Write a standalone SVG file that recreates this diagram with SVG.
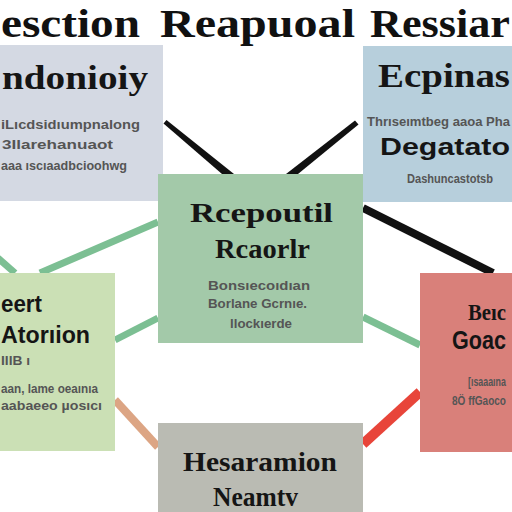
<svg xmlns="http://www.w3.org/2000/svg" width="512" height="512" viewBox="0 0 512 512">
<style>
.ttl{font-family:"Liberation Serif","DejaVu Serif",serif;font-weight:bold;fill:#111}
.hd{font-family:"Liberation Serif","DejaVu Serif",serif;font-weight:bold;fill:#151515}
.hs{font-family:"Liberation Sans","DejaVu Sans",sans-serif;font-weight:bold;fill:#151515}
.sub{font-family:"Liberation Sans Narrow","Liberation Sans",sans-serif;font-weight:bold;fill:#555;font-size:12.5px}
</style>
<rect width="512" height="512" fill="#ffffff"/>
<g id="title">
<text class="ttl" x="1" y="37" font-size="40" textLength="139" lengthAdjust="spacingAndGlyphs">esction</text>
<text class="ttl" x="160" y="37" font-size="40" textLength="195" lengthAdjust="spacingAndGlyphs">Reapuoal</text>
<text class="ttl" x="370" y="37" font-size="40" textLength="140" lengthAdjust="spacingAndGlyphs">Ressiar</text>
</g>
<g id="connectors" fill="none" stroke-linecap="butt">
<polygon points="163.5,123.5 166.5,120 234,174 222,174" fill="#111"/>
<polygon points="355,120.5 358.5,124.5 298,174 286,174" fill="#111"/>
<line x1="363" y1="208" x2="493" y2="273" stroke="#111" stroke-width="8"/>
<line x1="-2" y1="258" x2="15" y2="273" stroke="#7cbf93" stroke-width="7"/>
<line x1="40" y1="273" x2="158" y2="222" stroke="#7cbf93" stroke-width="7"/>
<line x1="115" y1="340" x2="158" y2="318" stroke="#7cbf93" stroke-width="7"/>
<line x1="115" y1="400" x2="158" y2="447" stroke="#dca584" stroke-width="8"/>
<line x1="363" y1="317" x2="420" y2="345" stroke="#7cbf93" stroke-width="7"/>
<line x1="363" y1="444" x2="420" y2="392" stroke="#e8453a" stroke-width="10"/>
</g>
<g id="node-topleft">
<rect x="0" y="45" width="163" height="156" fill="#d4d9e3"/>
<text class="hd" x="2" y="89" font-size="34" textLength="146" lengthAdjust="spacingAndGlyphs">ndonioiy</text>
<text class="sub" x="1" y="129" textLength="139" lengthAdjust="spacingAndGlyphs">iLıcdsidıumpnalong</text>
<text class="sub" x="2" y="149" textLength="111" lengthAdjust="spacingAndGlyphs">3Ilarehanuaot</text>
<text class="sub" x="1" y="170" textLength="126" lengthAdjust="spacingAndGlyphs">aaa ıscıaadbcioohwg</text>
</g>
<g id="node-topright">
<rect x="363" y="46" width="149" height="156" fill="#b7cfdc"/>
<text class="hd" x="378" y="87" font-size="33" textLength="132" lengthAdjust="spacingAndGlyphs">Ecpinas</text>
<text class="sub" x="367" y="126" textLength="143" lengthAdjust="spacingAndGlyphs">Thrıseımtbeg aaoa Pha</text>
<text class="hs" x="380" y="155" font-size="24" textLength="130" lengthAdjust="spacingAndGlyphs">Degatato</text>
<text class="sub" x="407" y="183" textLength="86" lengthAdjust="spacingAndGlyphs">Dashuncastotsb</text>
</g>
<g id="node-center">
<rect x="158" y="174" width="205" height="169" fill="#a3c9a9"/>
<text class="hd" x="190" y="222" font-size="28" textLength="143" lengthAdjust="spacingAndGlyphs">Rcepoutil</text>
<text class="hd" x="215" y="258" font-size="28" textLength="95" lengthAdjust="spacingAndGlyphs">Rcaorlr</text>
<text class="sub" x="208" y="290" textLength="102" lengthAdjust="spacingAndGlyphs">Bonsıecoıdıan</text>
<text class="sub" x="208" y="308" textLength="99" lengthAdjust="spacingAndGlyphs">Borlane Gcrnıe.</text>
<text class="sub" x="230" y="328" textLength="62" lengthAdjust="spacingAndGlyphs">llockıerde</text>
</g>
<g id="node-leftmid">
<rect x="0" y="273" width="115" height="178" fill="#cbe0b5"/>
<text class="hs" x="1" y="312" font-size="24" textLength="41" lengthAdjust="spacingAndGlyphs">eert</text>
<text class="hs" x="1" y="343" font-size="24" textLength="89" lengthAdjust="spacingAndGlyphs">Atorıion</text>
<text class="sub" x="1" y="365" textLength="29" lengthAdjust="spacingAndGlyphs">IIIB ı</text>
<text class="sub" x="1" y="393" textLength="97" lengthAdjust="spacingAndGlyphs">aan, lame oeaınıa</text>
<text class="sub" x="1" y="410" textLength="101" lengthAdjust="spacingAndGlyphs">aabaeeo µosıcı</text>
</g>
<g id="node-rightmid">
<rect x="420" y="273" width="92" height="179" fill="#d9807a"/>
<text class="hd" x="468" y="320" font-size="24" textLength="38" lengthAdjust="spacingAndGlyphs">Beıc</text>
<text class="hs" transform="translate(452,349) scale(0.8,1)" x="0" y="0" font-size="26" textLength="67.5" lengthAdjust="spacingAndGlyphs">Goac</text>
<text class="sub" transform="translate(468,386) scale(0.62,1)" x="0" y="0" textLength="61" lengthAdjust="spacingAndGlyphs">[ısaaaına</text>
<text class="sub" transform="translate(452,405) scale(0.75,1)" x="0" y="0" textLength="72" lengthAdjust="spacingAndGlyphs">8Ö ffGaoco</text>
</g>
<g id="node-bottom">
<rect x="158" y="423" width="205" height="89" fill="#babbb3"/>
<text class="hd" x="183" y="471" font-size="28" textLength="154" lengthAdjust="spacingAndGlyphs">Hesaramion</text>
<text class="hd" x="213" y="506" font-size="28" textLength="85" lengthAdjust="spacingAndGlyphs">Neamtv</text>
</g>
</svg>
